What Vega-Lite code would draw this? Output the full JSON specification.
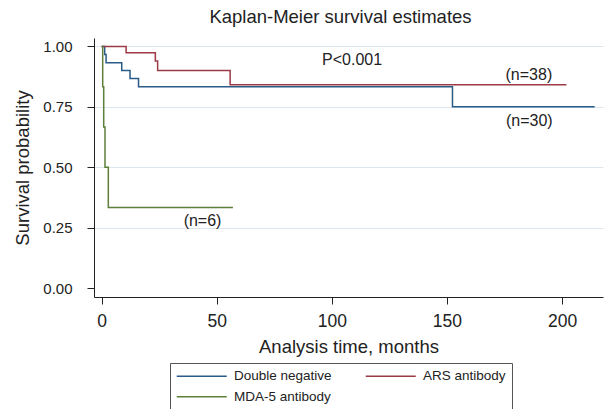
{
  "$schema": "https://vega.github.io/schema/vega-lite/v6.json",
  "autosize": {"type": "none"},
  "padding": {"left": 94, "top": 38, "right": 8, "bottom": 112},
  "width": 509,
  "height": 259,
  "background": "white",
  "config": {
    "font": "Liberation Sans",
    "view": {"stroke": null}
  },
  "title": {
    "text": "Kaplan-Meier survival estimates",
    "fontSize": 18.5,
    "fontWeight": "normal",
    "color": "#222222",
    "anchor": "middle",
    "baseline": "alphabetic",
    "offset": -3,
    "dx": -8
  },
  "layer": [
    {
      "data": {
        "values": [
          {"group": "Double negative", "t": 0, "s": 1.0},
          {"group": "Double negative", "t": 1.3, "s": 0.967},
          {"group": "Double negative", "t": 1.9, "s": 0.933},
          {"group": "Double negative", "t": 8.7, "s": 0.9},
          {"group": "Double negative", "t": 12.3, "s": 0.867},
          {"group": "Double negative", "t": 16.0, "s": 0.833},
          {"group": "Double negative", "t": 152.4, "s": 0.75},
          {"group": "Double negative", "t": 214.2, "s": 0.75},
          {"group": "ARS antibody", "t": 0, "s": 1.0},
          {"group": "ARS antibody", "t": 10.6, "s": 0.974},
          {"group": "ARS antibody", "t": 23.3, "s": 0.94},
          {"group": "ARS antibody", "t": 24.3, "s": 0.9},
          {"group": "ARS antibody", "t": 55.8, "s": 0.842},
          {"group": "ARS antibody", "t": 201.9, "s": 0.842},
          {"group": "MDA-5 antibody", "t": 0, "s": 1.0},
          {"group": "MDA-5 antibody", "t": 0.43, "s": 0.833},
          {"group": "MDA-5 antibody", "t": 0.87, "s": 0.667},
          {"group": "MDA-5 antibody", "t": 1.43, "s": 0.5},
          {"group": "MDA-5 antibody", "t": 2.87, "s": 0.333},
          {"group": "MDA-5 antibody", "t": 57.0, "s": 0.333}
        ]
      },
      "mark": {"type": "line", "interpolate": "step-after", "strokeWidth": 1.5},
      "encoding": {
        "x": {
          "field": "t",
          "type": "quantitative",
          "scale": {"domain": [-3.35, 217.8], "nice": false, "zero": false},
          "axis": {
            "values": [0, 50, 100, 150, 200],
            "title": "Analysis time, months",
            "titleFontSize": 18.5,
            "titleFontWeight": "normal",
            "titleColor": "#222222",
            "titlePadding": 8,
            "labelFontSize": 17.5,
            "labelColor": "#222222",
            "labelPadding": 8,
            "tickSize": 7,
            "tickColor": "#222222",
            "domainColor": "#222222",
            "grid": false
          }
        },
        "y": {
          "field": "s",
          "type": "quantitative",
          "scale": {"domain": [-0.037, 1.035], "nice": false, "zero": false},
          "axis": {
            "values": [0, 0.25, 0.5, 0.75, 1],
            "format": ".2f",
            "title": "Survival probability",
            "titleFontSize": 18.5,
            "titleFontWeight": "normal",
            "titleColor": "#222222",
            "titlePadding": 10,
            "labelFontSize": 15,
            "labelColor": "#222222",
            "labelPadding": 15,
            "tickSize": 7,
            "tickColor": "#222222",
            "domainColor": "#222222",
            "grid": true,
            "gridColor": {"condition": {"test": "datum.value === 0", "value": "transparent"}, "value": "#dbe6ed"},
            "gridWidth": 1
          }
        },
        "color": {
          "field": "group",
          "type": "nominal",
          "scale": {
            "domain": ["Double negative", "ARS antibody", "MDA-5 antibody"],
            "range": ["#2b5b87", "#9c3a46", "#5d7f3a"]
          },
          "legend": {
            "title": null,
            "orient": "none",
            "legendX": 76,
            "legendY": 325,
            "direction": "horizontal",
            "columns": 2,
            "gridAlign": "all",
            "columnPadding": 30,
            "rowPadding": 6,
            "padding": 6,
            "strokeColor": "#555555",
            "symbolType": "M-5,0H5",
            "symbolSize": 100,
            "symbolStrokeWidth": 1.5,
            "symbolOffset": 19,
            "labelOffset": 25.5,
            "labelAlign": "left",
            "labelFontSize": 13.5,
            "labelColor": "#222222"
          }
        }
      }
    },
    {
      "data": {
        "values": [
          {"t": 108.8, "s": 0.945, "label": "P<0.001"},
          {"t": 185.6, "s": 0.883, "label": "(n=38)"},
          {"t": 185.8, "s": 0.69, "label": "(n=30)"},
          {"t": 43.8, "s": 0.276, "label": "(n=6)"}
        ]
      },
      "mark": {"type": "text", "fontSize": 16, "color": "#222222", "align": "center", "baseline": "middle"},
      "encoding": {
        "x": {"field": "t", "type": "quantitative"},
        "y": {"field": "s", "type": "quantitative"},
        "text": {"field": "label", "type": "nominal"}
      }
    }
  ]
}
